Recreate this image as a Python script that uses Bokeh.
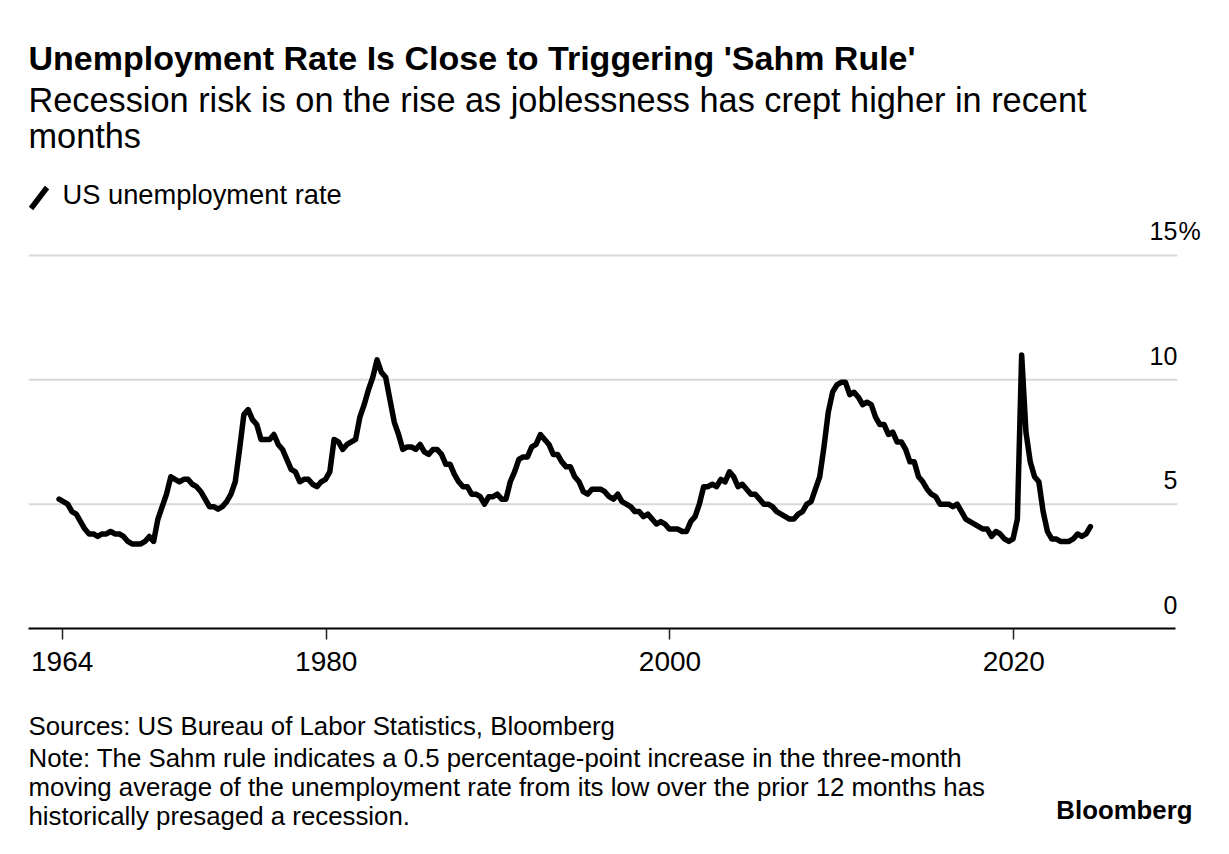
import pandas as pd
from bokeh.plotting import figure
from bokeh.layouts import column
from bokeh.models import Range1d, FixedTicker, CustomJSTickFormatter, Label, Arrow
from bokeh.embed import file_html
from bokeh.resources import INLINE

# ---- data: US unemployment rate (%), quarterly samples Jun 1964 .. Jun 2024 ----
dates = pd.date_range("1964-06-01", "2024-06-01", freq="3MS")
rate = [
    5.2, 5.1, 5.0,               # 1964
    4.7, 4.6, 4.3, 4.0,          # 1965
    3.8, 3.8, 3.7, 3.8,          # 1966
    3.8, 3.9, 3.8, 3.8,          # 1967
    3.7, 3.5, 3.4, 3.4,          # 1968
    3.4, 3.5, 3.7, 3.5,          # 1969
    4.4, 4.9, 5.4, 6.1,          # 1970
    6.0, 5.9, 6.0, 6.0,          # 1971
    5.8, 5.7, 5.5, 5.2,          # 1972
    4.9, 4.9, 4.8, 4.9,          # 1973
    5.1, 5.4, 5.9, 7.2,          # 1974
    8.6, 8.8, 8.4, 8.2,          # 1975
    7.6, 7.6, 7.6, 7.8,          # 1976
    7.4, 7.2, 6.8, 6.4,          # 1977
    6.3, 5.9, 6.0, 6.0,          # 1978
    5.8, 5.7, 5.9, 6.0,          # 1979
    6.3, 7.6, 7.5, 7.2,          # 1980
    7.4, 7.5, 7.6, 8.5,          # 1981
    9.0, 9.6, 10.1, 10.8,        # 1982
    10.3, 10.1, 9.2, 8.3,        # 1983
    7.8, 7.2, 7.3, 7.3,          # 1984
    7.2, 7.4, 7.1, 7.0,          # 1985
    7.2, 7.2, 7.0, 6.6,          # 1986
    6.6, 6.2, 5.9, 5.7,          # 1987
    5.7, 5.4, 5.4, 5.3,          # 1988
    5.0, 5.3, 5.3, 5.4,          # 1989
    5.2, 5.2, 5.9, 6.3,          # 1990
    6.8, 6.9, 6.9, 7.3,          # 1991
    7.4, 7.8, 7.6, 7.4,          # 1992
    7.0, 7.0, 6.7, 6.5,          # 1993
    6.5, 6.1, 5.9, 5.5,          # 1994
    5.4, 5.6, 5.6, 5.6,          # 1995
    5.5, 5.3, 5.2, 5.4,          # 1996
    5.1, 5.0, 4.9, 4.7,          # 1997
    4.7, 4.5, 4.6, 4.4,          # 1998
    4.2, 4.3, 4.2, 4.0,          # 1999
    4.0, 4.0, 3.9, 3.9,          # 2000
    4.3, 4.5, 5.0, 5.7,          # 2001
    5.7, 5.8, 5.7, 6.0,          # 2002
    5.9, 6.3, 6.1, 5.7,          # 2003
    5.8, 5.6, 5.4, 5.4,          # 2004
    5.2, 5.0, 5.0, 4.9,          # 2005
    4.7, 4.6, 4.5, 4.4,          # 2006
    4.4, 4.6, 4.7, 5.0,          # 2007
    5.1, 5.6, 6.1, 7.3,          # 2008
    8.7, 9.5, 9.8, 9.9,          # 2009
    9.9, 9.4, 9.5, 9.3,          # 2010
    9.0, 9.1, 9.0, 8.5,          # 2011
    8.2, 8.2, 7.8, 7.9,          # 2012
    7.5, 7.5, 7.2, 6.7,          # 2013
    6.7, 6.1, 5.9, 5.6,          # 2014
    5.4, 5.3, 5.0, 5.0,          # 2015
    5.0, 4.9, 5.0, 4.7,          # 2016
    4.4, 4.3, 4.2, 4.1,          # 2017
    4.0, 4.0, 3.7, 3.9,          # 2018
    3.8, 3.6, 3.5, 3.6,          # 2019
    4.4, 11.0, 7.9, 6.7,         # 2020
    6.1, 5.9, 4.7, 3.9,          # 2021
    3.6, 3.6, 3.5, 3.5,          # 2022
    3.5, 3.6, 3.8, 3.7,          # 2023
    3.8, 4.1,                    # 2024
]
x_years = list(dates.year + (dates.month - 0.5) / 12)

x_ticks = [1964.64, 1980, 2000, 2020]
y_ticks = [0, 5, 10, 15]
y_tick_labels = ["0", "5", "10", "15"]
grid_values = [5, 10, 15]

title = "Unemployment Rate Is Close to Triggering 'Sahm Rule'"
subtitle = ["Recession risk is on the rise as joblessness has crept higher in recent", "months"]
legend_text = "US unemployment rate"
footer = [
    "Sources: US Bureau of Labor Statistics, Bloomberg",
    "Note: The Sahm rule indicates a 0.5 percentage-point increase in the three-month",
    "moving average of the unemployment rate from its low over the prior 12 months has",
    "historically presaged a recession.",
]

FONT = "Liberation Sans"
X0, X1 = 1962.68, 2032.55      # visible x range (frame spans to canvas right edge)
GRID_END = 2029.52             # where gridlines / axis stop

p = figure(
    width=1229, height=700, output_backend="svg", toolbar_location=None,
    x_range=Range1d(X0, X1), y_range=Range1d(0, 25.25),
    y_axis_location=None,
    min_border_left=28, min_border_right=0, min_border_top=0, min_border_bottom=72,
    outline_line_color=None, background_fill_color="white", border_fill_color="white",
)
p.grid.visible = False

# horizontal gridlines
p.segment(x0=[X0] * len(grid_values), y0=grid_values,
          x1=[GRID_END] * len(grid_values), y1=grid_values,
          line_color="#d9d9d9", line_width=2)

p.line(x_years, rate, line_width=5.5, line_color="black", line_join="round", line_cap="round")

# x axis
ax = p.xaxis[0]
ax.bounds = (X0, 2029.4)
ax.ticker = FixedTicker(ticks=x_ticks)
ax.formatter = CustomJSTickFormatter(code="return Math.floor(tick).toString();")
ax.axis_line_color = "black"
ax.axis_line_width = 2
ax.major_tick_out = 11
ax.major_tick_in = 0
ax.major_tick_line_width = 1.5
ax.major_tick_line_color = "#222222"
ax.minor_tick_out = 0
ax.minor_tick_in = 0
ax.major_label_text_font = FONT
ax.major_label_text_font_size = "28px"
ax.major_label_text_color = "black"
ax.major_label_standoff = 12


def lab(fig, text, x, y, size, bold=False, align="left", x_units="screen", y_units="screen",
        y_offset=0, x_offset=0):
    fig.add_layout(Label(
        x=x, y=y, x_units=x_units, y_units=y_units, text=text,
        text_font=FONT, text_font_size=f"{size}px",
        text_font_style="bold" if bold else "normal",
        text_align=align, text_baseline="alphabetic", text_color="black",
        y_offset=y_offset, x_offset=x_offset,
    ))


# y tick labels (above gridlines, right-aligned at grid end)
for v, t in zip(y_ticks, y_tick_labels):
    lab(p, t, GRID_END, v, 25, align="right", x_units="data", y_units="data", y_offset=24)
lab(p, "%", GRID_END, y_ticks[-1], 25, align="left", x_units="data", y_units="data",
    y_offset=24, x_offset=1)

# header (inside main frame, screen units from frame bottom-left)
lab(p, title, 0, 571, 34, bold=True)
lab(p, subtitle[0], 0, 529, 34.3)
lab(p, subtitle[1], 0, 493, 34.3)
p.add_layout(Arrow(x_start=2.5, y_start=420, x_end=18.5, y_end=441,
                   start_units="screen", end_units="screen", end=None,
                   line_width=5.5, line_color="black"))
lab(p, legend_text, 34, 434, 27.3)

# footer figure (its frame is aligned with the main frame, starting at x=28)
f = figure(
    width=1229, height=154, output_backend="svg", toolbar_location=None,
    x_range=Range1d(0, 1201), y_range=Range1d(0, 154),
    x_axis_location=None, y_axis_location=None, min_border=0,
    outline_line_color=None, background_fill_color="white", border_fill_color="white",
)
f.grid.visible = False
for t, yy in zip(footer, [128.5, 97, 68, 39]):
    lab(f, t, 0, yy, 25.8)
lab(f, "Bloomberg", 1164, 45, 25.8, bold=True, align="right")

open("out.html", "w").write(file_html(column(p, f), INLINE))
